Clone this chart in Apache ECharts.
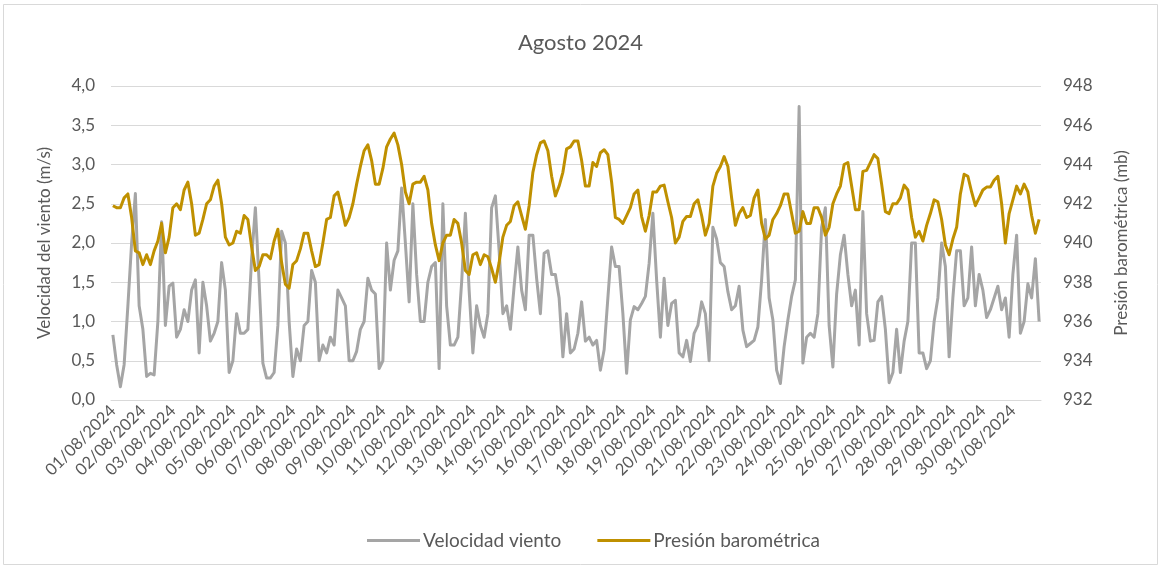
<!DOCTYPE html>
<html>
<head>
<meta charset="utf-8">
<script src="https://cdn.jsdelivr.net/npm/echarts@6/dist/echarts.min.js"></script>
<style>
  html, body { margin: 0; padding: 0; background: #fff; }
  #chart { width: 1161px; height: 569px; }
</style>
</head>
<body>
<div id="chart"></div>
<script>
// one reading every 3 hours (00, 03, ... 21h), one row per day
const hours = ['00:00', '03:00', '06:00', '09:00', '12:00', '15:00', '18:00', '21:00']
const dayCount = 31

const windSpeed = [
  0.83, 0.45, 0.17, 0.45, 1.2, 2.0, 2.63, 1.2,
  0.9, 0.3, 0.34, 0.32, 1.0, 2.27, 0.95, 1.45,
  1.49, 0.8, 0.9, 1.15, 1.0, 1.4, 1.53, 0.6,
  1.5, 1.2, 0.75, 0.85, 1.0, 1.75, 1.4, 0.35,
  0.5, 1.1, 0.85, 0.85, 0.9, 1.8, 2.45, 1.5,
  0.47, 0.28, 0.28, 0.35, 0.95, 2.15, 2.0, 1.0,
  0.3, 0.65, 0.5, 0.95, 1.0, 1.65, 1.5, 0.5,
  0.7, 0.6, 0.8, 0.7, 1.4, 1.3, 1.2, 0.5,
  0.5, 0.62, 0.9, 1.0, 1.55, 1.4, 1.35, 0.4,
  0.5, 2.0, 1.4, 1.78, 1.9, 2.7, 2.0, 1.25,
  2.5, 1.6, 1.0, 1.0, 1.5, 1.7, 1.75, 0.4,
  2.5, 1.2, 0.7, 0.7, 0.8, 1.5, 2.38, 1.4,
  0.6, 1.2, 0.95, 0.8, 1.1, 2.45, 2.6, 1.9,
  1.1, 1.2, 0.9, 1.45, 1.95, 1.4, 1.15, 2.1,
  2.1, 1.55, 1.1, 1.87, 1.9, 1.6, 1.6, 1.3,
  0.55, 1.1, 0.6, 0.65, 0.85, 1.25, 0.75, 0.8,
  0.7, 0.76, 0.38, 0.64, 1.3, 1.95, 1.7, 1.7,
  1.1, 0.34, 1.02, 1.19, 1.15, 1.23, 1.32, 1.74,
  2.38, 1.53, 0.8, 1.55, 0.95, 1.23, 1.27, 0.6,
  0.55, 0.76, 0.49, 0.85, 0.95, 1.25, 1.1, 0.5,
  2.2, 2.05, 1.75, 1.7, 1.38, 1.15, 1.2, 1.45,
  0.89, 0.68, 0.72, 0.76, 0.93, 1.53, 2.3, 1.3,
  1.02, 0.38, 0.21, 0.68, 1.02, 1.32, 1.53, 3.74,
  0.47, 0.8, 0.85, 0.8, 1.1, 2.2, 2.45, 0.95,
  0.42, 1.35, 1.85, 2.1, 1.6, 1.2, 1.4, 0.7,
  2.4, 1.1, 0.75, 0.76, 1.25, 1.32, 0.9, 0.22,
  0.35, 0.9, 0.35, 0.75, 1.0, 2.0, 2.0, 0.6,
  0.6, 0.4, 0.5, 1.0, 1.3, 2.0, 1.7, 0.55,
  1.3, 1.9, 1.9, 1.2, 1.3, 1.95, 1.2, 1.6,
  1.4, 1.05, 1.15, 1.3, 1.45, 1.15, 1.3, 0.8,
  1.6, 2.1, 0.85, 1.0, 1.48, 1.3, 1.8, 1.0
]

const pressure = [
  941.9, 941.8, 941.8, 942.3, 942.5, 941.3, 939.6, 939.5,
  938.9, 939.4, 938.9, 939.6, 940.1, 941.0, 939.5, 940.3,
  941.8, 942.0, 941.7, 942.7, 943.1, 942.0, 940.4, 940.5,
  941.2, 942.0, 942.2, 942.9, 943.2, 942.0, 940.3, 939.9,
  940.0, 940.6, 940.5, 941.4, 941.2, 939.8, 938.6, 938.8,
  939.4, 939.4, 939.2, 940.1, 940.7, 939.0, 937.9, 937.7,
  938.9, 939.1, 939.7, 940.5, 940.5, 939.6, 938.8, 938.9,
  940.0, 941.2, 941.3, 942.4, 942.6, 941.8, 940.9, 941.3,
  942.0, 943.0, 943.9, 944.7, 945.0, 944.2, 943.0, 943.0,
  943.8, 944.9, 945.3, 945.6, 945.0, 944.0, 942.6, 942.0,
  943.0, 943.1, 943.1, 943.4, 942.7, 941.0, 939.9, 939.1,
  940.0, 940.4, 940.4, 941.2, 941.0, 940.0, 938.6, 938.4,
  939.4, 939.5, 938.9, 939.4, 939.3, 938.7, 938.0, 939.0,
  940.3, 940.9, 941.1, 941.9, 942.1, 941.4, 940.7, 941.9,
  943.6, 944.5, 945.1, 945.2, 944.7, 943.4, 942.4, 942.9,
  943.6, 944.8, 944.9, 945.2, 945.2, 944.2, 942.9, 942.9,
  944.1, 943.9, 944.6, 944.75, 944.5, 943.1, 941.3, 941.2,
  941.0, 941.4, 941.8, 942.5, 942.7, 941.35, 940.6, 941.4,
  942.6, 942.6, 942.9, 942.95, 942.1, 941.3, 940.0, 940.3,
  941.1, 941.35, 941.35, 942.0, 942.2, 941.4, 940.4, 941.0,
  942.9, 943.55, 943.9, 944.4, 943.9, 942.3, 940.9, 941.5,
  941.8, 941.3, 941.4, 942.3, 942.7, 941.0, 940.2, 940.4,
  941.2, 941.5, 941.9, 942.5, 942.5, 941.5, 940.5, 940.6,
  941.6, 941.0, 941.0, 941.8, 941.8, 941.3, 940.4, 940.8,
  942.0, 942.5, 942.9, 944.0, 944.1, 942.9, 941.7, 941.7,
  943.65, 943.7, 944.1, 944.5, 944.3, 943.0, 941.6, 941.5,
  942.0, 942.0, 942.3, 942.95, 942.7, 941.3, 940.3, 940.6,
  940.1, 940.9, 941.5, 942.2, 942.1, 941.2, 939.9, 939.4,
  940.2, 940.8, 942.5, 943.5, 943.4, 942.6, 941.9, 942.3,
  942.7, 942.85, 942.85, 943.2, 943.4, 942.0, 940.0, 941.5,
  942.2, 942.9, 942.5, 943.0, 942.6, 941.4, 940.5, 941.2
]

const windTicks = { min: 0, max: 4, interval: 0.5 }
const pressureTicks = { min: 932, max: 948, interval: 2 }

const categories = []
for (let d = 1; d <= dayCount; d++) {
  const day = (d < 10 ? '0' + d : '' + d) + '/08/2024'
  hours.forEach(h => categories.push(day + ' ' + h))
}

const textColor = '#595959'
const font = 'Lato, "Open Sans", sans-serif'

const chart = echarts.init(document.getElementById('chart'))
const option = {
  backgroundColor: '#fff',
  animation: false,
  textStyle: { fontFamily: font },
  title: {
    text: 'Agosto 2024',
    left: 'center',
    top: 27,
    textStyle: { fontFamily: font, fontSize: 22, fontWeight: 'normal', color: textColor }
  },
  graphic: [{
    type: 'rect',
    shape: { x: 3.5, y: 4.5, width: 1154, height: 560 },
    style: { fill: 'none', stroke: '#d9d9d9', lineWidth: 1 },
    silent: true
  }],
  legend: {
    top: 526,
    left: 362,
    itemWidth: 53,
    itemHeight: 3,
    itemGap: 36,
    icon: 'rect',
    textStyle: { fontFamily: font, fontSize: 19, color: textColor, padding: [0, 0, 0, -2] },
    data: ['Velocidad viento', 'Presión barométrica']
  },
  grid: { left: 111, right: 120, top: 86, bottom: 169 },
  xAxis: {
    type: 'category',
    boundaryGap: true,
    data: categories,
    axisLine: { lineStyle: { color: '#d9d9d9' } },
    axisTick: { show: false },
    axisLabel: {
      interval: hours.length - 1,
      rotate: 45,
      fontFamily: font,
      fontSize: 16.5,
      color: textColor,
      margin: 8,
      formatter: v => v.split(' ')[0]
    }
  },
  yAxis: [{
    type: 'value',
    min: windTicks.min,
    max: windTicks.max,
    interval: windTicks.interval,
    name: 'Velocidad del viento (m/s)',
    nameLocation: 'middle',
    nameGap: 58,
    nameTextStyle: { fontFamily: font, fontSize: 17, color: textColor },
    axisLabel: {
      fontFamily: font,
      fontSize: 17,
      color: textColor,
      margin: 16,
      formatter: v => v.toFixed(1).replace('.', ',')
    },
    axisLine: { show: false },
    axisTick: { show: false },
    splitLine: { lineStyle: { color: '#d9d9d9', width: 1 } }
  }, {
    type: 'value',
    min: pressureTicks.min,
    max: pressureTicks.max,
    interval: pressureTicks.interval,
    name: 'Presión barométrica (mb)',
    nameLocation: 'middle',
    nameGap: 72,
    nameRotate: 90,
    nameTextStyle: { fontFamily: font, fontSize: 17, color: textColor },
    axisLabel: { fontFamily: font, fontSize: 17, color: textColor, margin: 22 },
    axisLine: { show: false },
    axisTick: { show: false },
    splitLine: { show: false }
  }],
  series: [{
    name: 'Velocidad viento',
    type: 'line',
    yAxisIndex: 0,
    data: windSpeed,
    showSymbol: false,
    color: '#a5a5a5',
    lineStyle: { width: 3, color: '#a5a5a5', join: 'round' }
  }, {
    name: 'Presión barométrica',
    type: 'line',
    yAxisIndex: 1,
    data: pressure,
    showSymbol: false,
    color: '#bf9000',
    lineStyle: { width: 3, color: '#bf9000', join: 'round' }
  }]
}
chart.setOption(option)
</script>
</body>
</html>
